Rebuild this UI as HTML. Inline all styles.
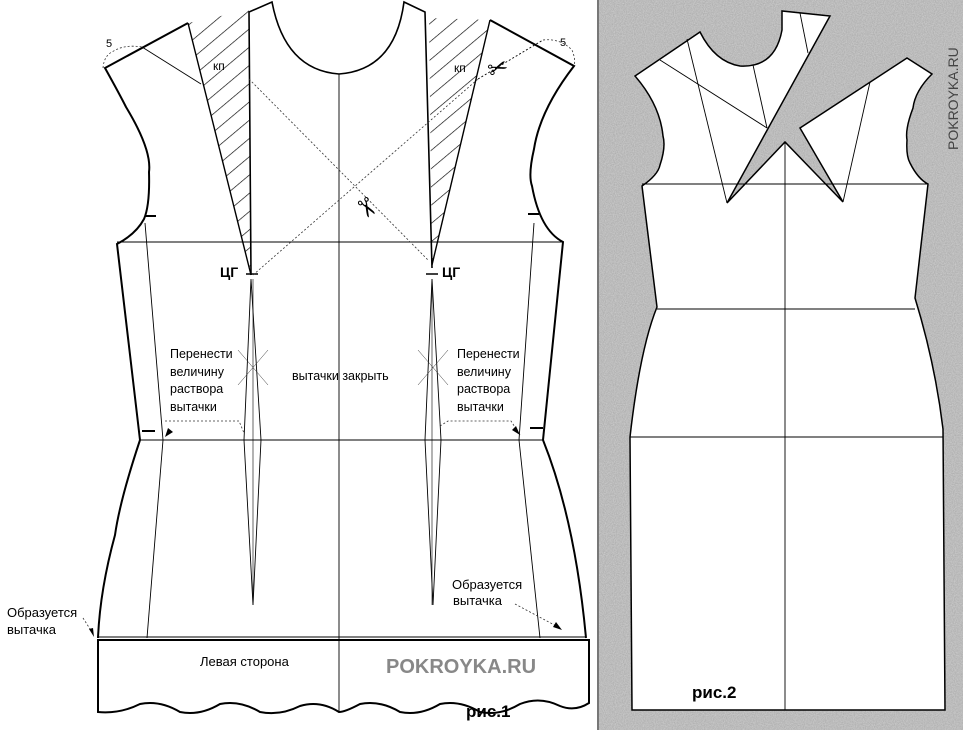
<!DOCTYPE html>
<html><head><meta charset="utf-8"><style>
html,body{margin:0;padding:0;background:#fff;}
svg{display:block;}
text{font-family:"Liberation Sans",sans-serif;}
</style></head><body>
<svg width="963" height="730" viewBox="0 0 963 730" xmlns="http://www.w3.org/2000/svg">
<defs>
<pattern id="hatch" patternUnits="userSpaceOnUse" width="14" height="14" patternTransform="rotate(-40)">
<line x1="0" y1="0" x2="14" y2="0" stroke="#000" stroke-width="1.3"/>
</pattern>
<filter id="noise" x="0" y="0" width="100%" height="100%">
<feTurbulence type="fractalNoise" baseFrequency="0.9" numOctaves="2" seed="3"/>
<feColorMatrix type="matrix" values="0 0 0 0 0.62  0 0 0 0 0.62  0 0 0 0 0.62  1.2 0 0 0 -0.1"/>
</filter>
</defs>
<rect width="963" height="730" fill="#fff"/>

<!-- ===== FIG 1 ===== -->
<polygon points="188,23 249,10 251,275" fill="url(#hatch)"/>
<polygon points="429,18 490,20 432,265" fill="url(#hatch)"/>

<g fill="none" stroke="#000" stroke-width="2">
<path d="M188,23 L105,68 Q120,95 126,107 Q152,150 149,172 Q150,205 144,219 Q136,234 117,244 L140,440 Q120,500 115,535 Q100,590 98,638"/>
<line x1="188" y1="23" x2="251" y2="275" stroke-width="1.4"/>
<path d="M251,275 L249,12 L272,2 Q285,70 339,74 Q395,70 404,2 L425,12 L432,268" stroke-width="1.6"/>
<line x1="490" y1="20" x2="432" y2="265" stroke-width="1.4"/>
<path d="M490,20 L574,66 Q540,110 534,149 Q528,175 532,186 Q540,230 563,242 L543,440 Q575,520 586,638"/>
<path d="M98,640 L589,640 L589,703 Q575,712 560,706 Q540,696 520,704 Q500,716 480,712 Q460,700 440,704 Q420,716 400,712 Q380,700 360,704 Q345,712 339,712 Q320,700 300,706 Q280,716 260,712 Q240,700 220,704 Q200,716 180,712 Q160,700 140,704 Q120,714 98,712 Z"/>
</g>

<g fill="none" stroke="#000" stroke-width="0.9">
<line x1="117" y1="242" x2="563" y2="242"/>
<line x1="140" y1="440" x2="543" y2="440"/>
<line x1="98" y1="637" x2="586" y2="637"/>
<line x1="339" y1="74" x2="339" y2="712"/>
<polyline points="145,223 163,440 147,638"/>
<polyline points="534,223 519,440 540,638"/>
<path d="M251,279 L244,440 L253,605 L261,440 Z"/>
<line x1="253" y1="279" x2="253" y2="605" stroke-width="0.6"/>
<path d="M432,279 L425,440 L433,605 L441,440 Z"/>
<line x1="432" y1="279" x2="432" y2="605" stroke-width="0.6"/>
<line x1="246" y1="274" x2="258" y2="274" stroke-width="1.5"/>
<line x1="426" y1="274" x2="438" y2="274" stroke-width="1.5"/>
<line x1="145" y1="216" x2="156" y2="216" stroke-width="2"/>
<line x1="142" y1="431" x2="155" y2="431" stroke-width="2"/>
<line x1="528" y1="214" x2="539" y2="214" stroke-width="2"/>
<line x1="530" y1="428" x2="543" y2="428" stroke-width="2"/>
<line x1="142" y1="47" x2="201" y2="84"/>
<line x1="478" y1="79" x2="543" y2="40" stroke-dasharray="2,2"/>
</g>
<g fill="none" stroke="#333" stroke-width="0.8" stroke-dasharray="2,2">
<line x1="249" y1="79" x2="429" y2="261"/>
<line x1="253" y1="275" x2="478" y2="79"/>
<path d="M103,68 Q104,56 112,52 Q124,44 142,47"/>
<path d="M543,40 Q560,38 572,50 Q576,60 574,66"/>
<polyline points="165,421 239,421 244,433"/>
<polyline points="440,426 448,421 511,421 520,435"/>
<line x1="238" y1="350" x2="268" y2="385" stroke-dasharray="none" stroke-width="0.5"/>
<line x1="268" y1="350" x2="238" y2="385" stroke-dasharray="none" stroke-width="0.5"/>
<line x1="418" y1="350" x2="448" y2="385" stroke-dasharray="none" stroke-width="0.5"/>
<line x1="448" y1="350" x2="418" y2="385" stroke-dasharray="none" stroke-width="0.5"/>
<line x1="515" y1="604" x2="560" y2="628"/>
<line x1="83" y1="618" x2="92" y2="632"/>
</g>
<polygon points="165,437 168,428 173,432" fill="#000"/>
<polygon points="520,435 512,430 516,426" fill="#000"/>
<polygon points="562,630 553,627 556,622" fill="#000"/>
<polygon points="94,637 89,629 93,628" fill="#000"/>

<g font-size="11" fill="#000">
<text x="106" y="47">5</text>
<text x="560" y="46">5</text>
<text x="213" y="70" font-size="12">кп</text>
<text x="454" y="72" font-size="12">кп</text>
</g>
<text x="355" y="220" font-size="26" transform="rotate(60 369 210)">✂</text>
<text x="487" y="75" font-size="24" transform="rotate(-20 501 65)">✂</text>

<g font-size="12.5" fill="#000">
<text x="220" y="277" font-size="14" font-weight="bold">ЦГ</text>
<text x="442" y="277" font-size="14" font-weight="bold">ЦГ</text>
<text x="170" y="358">Перенести</text>
<text x="170" y="376">величину</text>
<text x="170" y="393">раствора</text>
<text x="170" y="411">вытачки</text>
<text x="457" y="358">Перенести</text>
<text x="457" y="376">величину</text>
<text x="457" y="393">раствора</text>
<text x="457" y="411">вытачки</text>
<text x="292" y="380">вытачки закрыть</text>
<text x="452" y="589" font-size="13">Образуется</text>
<text x="453" y="605" font-size="13">вытачка</text>
<text x="7" y="617" font-size="13">Образуется</text>
<text x="7" y="634" font-size="13">вытачка</text>
<text x="200" y="666" font-size="13">Левая сторона</text>
</g>
<text x="386" y="673" font-size="20" font-weight="bold" fill="#888">POKROYKA.RU</text>
<text x="466" y="717" font-size="17" font-weight="bold">рис.1</text>

<!-- ===== FIG 2 ===== -->
<rect x="598" y="0" width="365" height="730" fill="#a9a9a9"/>
<rect x="598" y="0" width="365" height="730" filter="url(#noise)"/>
<line x1="598" y1="0" x2="598" y2="730" stroke="#777" stroke-width="2"/>
<path d="M635,76 L700,32 Q715,62 740,66 Q775,68 782,30 L782,11 L830,16 L727,203 L785,142 L843,202 L800,128 L907,58 L932,74 Q915,91 913,108 Q905,129 907,140 Q906,156 910,163 Q918,179 928,184 L915,298 Q935,363 943,429 L945,710 L632,710 L630,437 Q640,349 657,307 L642,186 Q658,175 660,165 Q666,147 663,136 Q660,105 635,76 Z" fill="#fff" stroke="#000" stroke-width="1.5"/>
<g stroke="#000" stroke-width="0.9" fill="none">
<line x1="785" y1="142" x2="785" y2="710"/>
<line x1="642" y1="184" x2="928" y2="184"/>
<line x1="657" y1="309" x2="915" y2="309"/>
<line x1="630" y1="437" x2="943" y2="437"/>
<line x1="687" y1="39" x2="727" y2="203"/>
<line x1="660" y1="60" x2="767" y2="128"/>
<line x1="753" y1="65" x2="767" y2="128"/>
<line x1="800" y1="13" x2="808" y2="53"/>
<line x1="870" y1="82" x2="843" y2="202"/>
</g>
<text x="692" y="698" font-size="17" font-weight="bold">рис.2</text>
<text x="0" y="0" font-size="14" fill="#444" transform="translate(958,150) rotate(-90)">POKROYKA.RU</text>
</svg>
</body></html>
